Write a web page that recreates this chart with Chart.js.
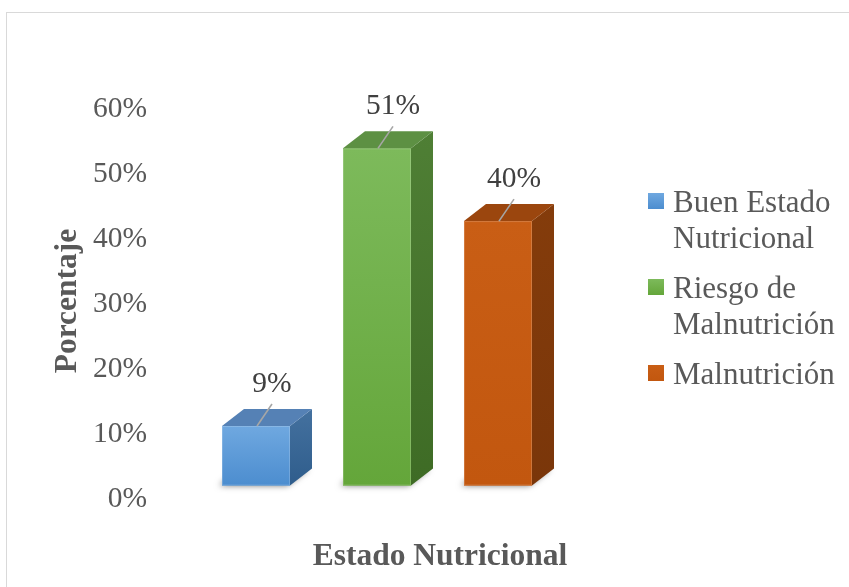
<!DOCTYPE html>
<html>
<head>
<meta charset="utf-8">
<script src="https://cdn.jsdelivr.net/npm/chart.js@4.4.0/dist/chart.umd.min.js"></script>
<style>
html,body{margin:0;padding:0;background:#ffffff;}
#wrap{width:849px;height:587px;position:relative;}
canvas{display:block;}
</style>
</head>
<body>
<div id="wrap"><canvas id="c" width="849" height="587"></canvas></div>
<script>
// ---- data ----
const categories = ['Buen Estado Nutricional', 'Riesgo de Malnutrición', 'Malnutrición'];
const values = [9, 51, 40];
const valueLabels = ['9%', '51%', '40%'];
const yTickValues = [0, 10, 20, 30, 40, 50, 60];
const yTickLabels = ['0%', '10%', '20%', '30%', '40%', '50%', '60%'];
const xAxisTitle = 'Estado Nutricional';
const yAxisTitle = 'Porcentaje';

// ---- palette (front top, front bottom, top face, side top, side bottom) ----
const palette = [
  {front: ['#6fa8e0', '#4c8dcf'], top: '#5581b5', side: ['#44719f', '#2f5d8c'], base: '#5b9bd5'},
  {front: ['#7dba5b', '#64a63a'], top: '#5d9043', side: ['#4f7f35', '#3e6b25'], base: '#70ad47'},
  {front: ['#c95e15', '#c2570f'], top: '#9b460e', side: ['#843c0b', '#7a360a'], base: '#c55a11'}
];

const FONT = "'Liberation Serif', 'Times New Roman', serif";
const DX = 22, DY = 17;

const threeD = {
  id: 'threeD',
  beforeDraw(chart) {
    const ctx = chart.ctx;
    ctx.save();
    ctx.fillStyle = '#ffffff';
    ctx.fillRect(0, 0, chart.width, chart.height);
    ctx.strokeStyle = '#d9d9d9';
    ctx.lineWidth = 1;
    ctx.strokeRect(6.5, 12.5, chart.width + 20, chart.height + 20);
    ctx.restore();
  },
  beforeDatasetsDraw(chart) {
    const ctx = chart.ctx;
    const meta = chart.getDatasetMeta(0);
    ctx.save();
    meta.data.forEach((el) => {
      const p = el.getProps(['x', 'y', 'base', 'width'], true);
      const l = p.x - p.width / 2, r = p.x + p.width / 2, b = p.base;
      ctx.shadowColor = 'rgba(0,0,0,0.55)';
      ctx.shadowBlur = 6;
      ctx.shadowOffsetX = -3;
      ctx.shadowOffsetY = 2;
      ctx.fillStyle = 'rgba(90,90,90,1)';
      ctx.beginPath();
      ctx.moveTo(l, b - 2);
      ctx.lineTo(r, b - 2);
      ctx.lineTo(r + DX, b - DY - 2);
      ctx.lineTo(l + DX, b - DY - 2);
      ctx.closePath();
      ctx.fill();
    });
    ctx.restore();
  },
  afterDatasetsDraw(chart) {
    const ctx = chart.ctx;
    const meta = chart.getDatasetMeta(0);
    ctx.save();
    meta.data.forEach((el, i) => {
      const p = el.getProps(['x', 'y', 'base', 'width'], true);
      const l = p.x - p.width / 2, r = p.x + p.width / 2, t = p.y, b = p.base;
      const c = palette[i];
      // front face
      let g = ctx.createLinearGradient(0, t, 0, b);
      g.addColorStop(0, c.front[0]);
      g.addColorStop(1, c.front[1]);
      ctx.fillStyle = g;
      ctx.fillRect(l, t, r - l, b - t);
      ctx.strokeStyle = 'rgba(255,255,255,0.18)';
      ctx.lineWidth = 1;
      ctx.strokeRect(l + 0.5, t + 0.5, r - l - 1, b - t - 1);
      // side face
      g = ctx.createLinearGradient(0, t - DY, 0, b);
      g.addColorStop(0, c.side[0]);
      g.addColorStop(1, c.side[1]);
      ctx.fillStyle = g;
      ctx.beginPath();
      ctx.moveTo(r, t);
      ctx.lineTo(r + DX, t - DY);
      ctx.lineTo(r + DX, b - DY);
      ctx.lineTo(r, b);
      ctx.closePath();
      ctx.fill();
      // top face
      ctx.fillStyle = c.top;
      ctx.beginPath();
      ctx.moveTo(l, t);
      ctx.lineTo(l + DX, t - DY);
      ctx.lineTo(r + DX, t - DY);
      ctx.lineTo(r, t);
      ctx.closePath();
      ctx.fill();
      // leader line
      ctx.strokeStyle = '#a6a6a6';
      ctx.lineWidth = 1.6;
      ctx.beginPath();
      ctx.moveTo(p.x + 1, t);
      ctx.lineTo(p.x + 16, t - 22);
      ctx.stroke();
      // value label
      ctx.fillStyle = '#404040';
      ctx.font = '29.5px ' + FONT;
      ctx.textAlign = 'center';
      ctx.textBaseline = 'middle';
      ctx.fillText(valueLabels[i], p.x + 16, t - 42);
    });
    ctx.restore();
  },
  afterDraw(chart) {
    const ctx = chart.ctx;
    ctx.save();
    // axis titles
    ctx.fillStyle = '#595959';
    ctx.font = 'bold 31.5px ' + FONT;
    ctx.textAlign = 'center';
    ctx.textBaseline = 'middle';
    ctx.fillText(xAxisTitle, 440, 557);
    ctx.save();
    ctx.translate(68, 301);
    ctx.rotate(-Math.PI / 2);
    ctx.fillText(yAxisTitle, 0, 0);
    ctx.restore();
    // legend
    ctx.font = '31px ' + FONT;
    ctx.textAlign = 'left';
    ctx.textBaseline = 'alphabetic';
    const maxW = 175, lineH = 36, gap = 14;
    let baseY = 212;
    categories.forEach((cat, i) => {
      const words = cat.split(' ');
      const lines = [];
      let cur = '';
      words.forEach(w => {
        const test = cur ? cur + ' ' + w : w;
        if (cur && ctx.measureText(test).width > maxW) { lines.push(cur); cur = w; }
        else cur = test;
      });
      if (cur) lines.push(cur);
      const g = ctx.createLinearGradient(0, baseY - 19, 0, baseY - 3);
      g.addColorStop(0, palette[i].front[0]);
      g.addColorStop(1, palette[i].front[1]);
      ctx.fillStyle = g;
      ctx.fillRect(648, baseY - 19, 16, 16);
      ctx.fillStyle = '#595959';
      lines.forEach((ln, k) => ctx.fillText(ln, 673, baseY + k * lineH));
      baseY += lines.length * lineH + gap;
    });
    ctx.restore();
  }
};

new Chart(document.getElementById('c'), {
  type: 'bar',
  data: {
    labels: categories,
    datasets: [{
      label: 'Estado Nutricional',
      data: values,
      yAxisID: 'yb',
      backgroundColor: palette.map(p => p.base),
      borderWidth: 0,
      categoryPercentage: 1,
      barPercentage: 0.562
    }]
  },
  options: {
    responsive: false,
    animation: false,
    events: [],
    layout: {padding: {top: 109.5, right: 290.5, bottom: 88, left: 0}},
    plugins: {legend: {display: false}, tooltip: {enabled: false}, title: {display: false}},
    scales: {
      x: {display: false, offset: true, grid: {display: false}},
      y: {
        position: 'left',
        min: 0, max: 60,
        afterBuildTicks(scale) { scale.ticks = yTickValues.map(v => ({value: v})); },
        afterFit(scale) { scale.width = 195.5; },
        grid: {display: false, drawTicks: false},
        border: {display: false},
        ticks: {
          padding: 48.5,
          color: '#595959',
          font: {family: FONT, size: 29.5},
          callback: (v, i) => yTickLabels[i]
        }
      },
      yb: {display: false, min: -2.04, max: 56.88}
    }
  },
  plugins: [threeD]
});
</script>
</body>
</html>
